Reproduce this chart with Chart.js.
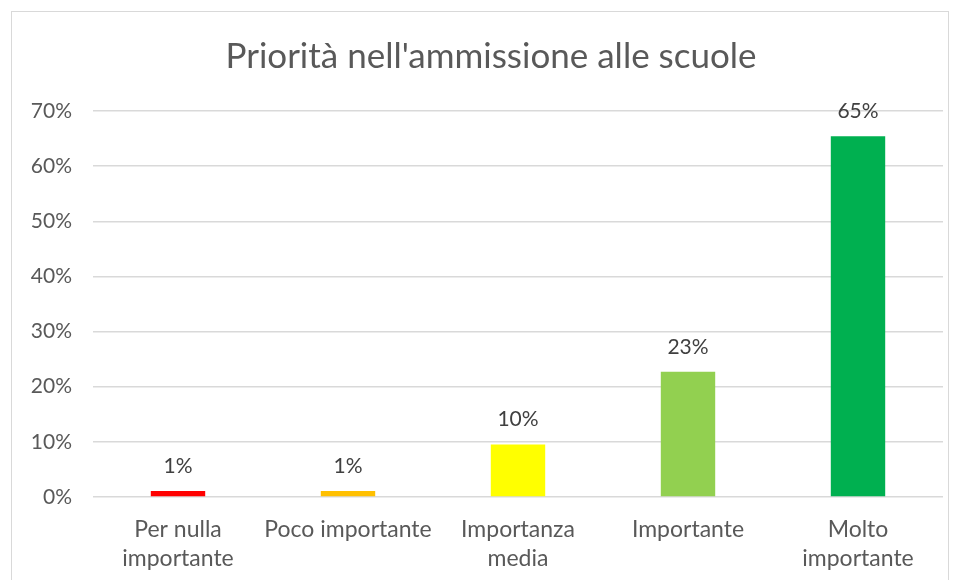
<!DOCTYPE html>
<html>
<head>
<meta charset="utf-8">
<script src="https://cdn.jsdelivr.net/npm/chart.js@4.4.0/dist/chart.umd.min.js"></script>
<style>
  html, body { margin: 0; padding: 0; background: #fff; }
  #wrap { position: relative; width: 959px; height: 580px; overflow: hidden; }
  #frame { position: absolute; left: 11px; top: 11px; width: 938px; height: 600px; border: 1.5px solid #d9d9d9; box-sizing: border-box; }
  canvas { position: absolute; left: 0; top: 0; }
</style>
</head>
<body>
<div id="wrap">
  <div id="frame"></div>
  <canvas id="chart" width="959" height="580"></canvas>
</div>
<script>
// values (percent)
const categories = [['Per nulla', 'importante'], 'Poco importante', ['Importanza', 'media'], 'Importante', ['Molto', 'importante']];
const shares = [1.1, 1.1, 9.5, 22.7, 65.4];
const shareLabels = ['1%', '1%', '10%', '23%', '65%'];
const barColors = ['#ff0000', '#ffc000', '#ffff00', '#92d050', '#00b050'];
const chartTitle = "Priorità nell'ammissione alle scuole";

const FONT = "Lato, 'Liberation Sans', sans-serif";

// draws the title (centred on the chart frame) and the value above each bar
const barLabels = {
    id: 'barLabels',
    afterDatasetsDraw(chart) {
        const ctx = chart.ctx;
        const meta = chart.getDatasetMeta(0);
        ctx.save();
        ctx.textAlign = 'center';
        ctx.textBaseline = 'middle';
        ctx.font = '35px ' + FONT;
        ctx.fillStyle = '#595959';
        ctx.fillText(chartTitle, 491, 57);
        ctx.font = '21px ' + FONT;
        ctx.fillStyle = '#404040';
        meta.data.forEach((bar, i) => {
            ctx.fillText(shareLabels[i], bar.x, bar.y - 25);
        });
        ctx.restore();
    }
};

new Chart(document.getElementById('chart').getContext('2d'), {
    type: 'bar',
    data: {
        labels: categories,
        datasets: [{
            data: shares,
            backgroundColor: barColors,
            barPercentage: 0.32,
            categoryPercentage: 1
        }]
    },
    options: {
        responsive: false,
        animation: false,
        layout: { padding: { left: 18, right: 16, top: 111, bottom: 10 } },
        plugins: {
            legend: { display: false },
            tooltip: { enabled: false },
            title: { display: false }
        },
        scales: {
            y: {
                min: 0,
                max: 70,
                ticks: {
                    stepSize: 10,
                    color: '#595959',
                    font: { family: FONT, size: 21 },
                    padding: 21,
                    callback: v => v + '%'
                },
                grid: { color: '#d9d9d9', lineWidth: 1.5, drawTicks: false },
                border: { display: false },
                afterFit: s => { s.width = 75; }
            },
            x: {
                ticks: {
                    color: '#595959',
                    font: { family: FONT, size: 23, lineHeight: 1.27 },
                    padding: 10,
                    maxRotation: 0,
                    autoSkip: false
                },
                grid: { display: false },
                border: { display: false },
                afterFit: s => { s.height = 73; }
            }
        }
    },
    plugins: [barLabels]
});
</script>
</body>
</html>
